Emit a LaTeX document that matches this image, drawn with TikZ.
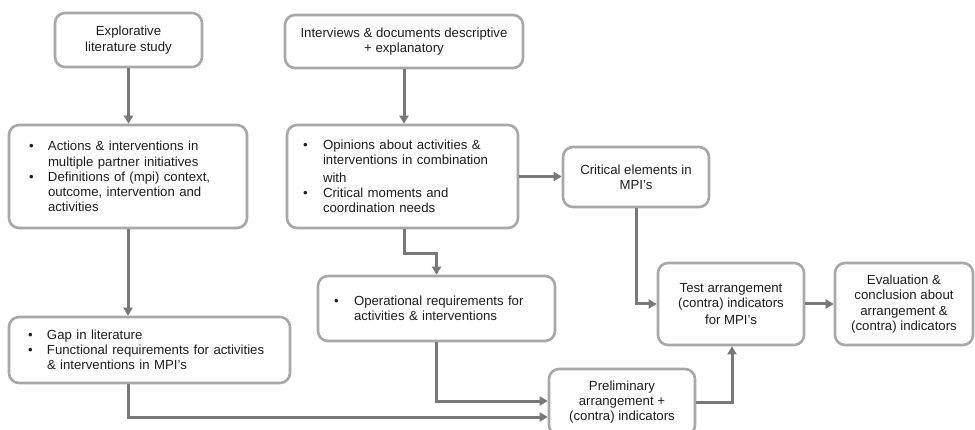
\documentclass[tikz,border=0pt]{standalone}
\usepackage{fontspec}
\setmainfont{Liberation Sans}
\usetikzlibrary{arrows.meta}

\definecolor{boxline}{HTML}{A8A8A8}
\definecolor{arrowline}{HTML}{787878}
\definecolor{txt}{HTML}{1E1E1E}

% bullet and hanging indent for list-like boxes
\newcommand\bul[1]{\makebox[#1][l]{\textbullet}}
\newcommand\ind[1]{\hspace*{#1}}

\tikzset{
  stage/.style={draw=boxline, line width=2.6pt, rounded corners=10pt, fill=white,
    text=txt, font=\fontsize{13.2}{15.2}\selectfont, align=center, inner sep=0pt},
  listbox/.style={stage, align=left},
  flow/.style={draw=arrowline, line width=3pt, -{Triangle[length=8pt,width=9pt]}},
}

\begin{document}
\begin{tikzpicture}[x=1pt, y=-1pt]
  \fill[white] (0,0) rectangle (975,430);
  \useasboundingbox (0,0) rectangle (975,430);

  % left column: literature
  \node[stage, minimum width=147pt, minimum height=54pt] (lit) at (128.5,40)
    {Explorative\\literature study};
  \node[listbox, minimum width=238pt, minimum height=103pt, text width=198pt, inner xsep=20pt] (act) at (128,176.5)
    {\bul{19pt}Actions \& interventions in\\
     \ind{19pt}multiple partner initiatives\\
     \bul{19pt}Definitions of (mpi) context,\\
     \ind{19pt}outcome, intervention and\\
     \ind{19pt}activities};
  \node[listbox, minimum width=281pt, minimum height=66pt, text width=243pt, inner xsep=19pt] (gap) at (149.5,350)
    {\bul{19pt}Gap in literature\\
     \bul{19pt}Functional requirements for activities\\
     \ind{19pt}\& interventions in MPI’s};

  % middle column: interviews
  \node[stage, minimum width=238pt, minimum height=53pt] (intv) at (404,41.5)
    {Interviews \& documents descriptive\\+ explanatory};
  \node[listbox, minimum width=231pt, minimum height=103pt, text width=199pt, inner xsep=16pt] (opin) at (402.5,176.5)
    {\bul{20pt}Opinions about activities \&\\
     \ind{20pt}interventions in combination\\[2.5pt]
     \ind{20pt}with\\
     \bul{20pt}Critical moments and\\
     \ind{20pt}coordination needs};
  \node[listbox, minimum width=237pt, minimum height=65pt, text width=205pt, inner xsep=16pt] (oper) at (436.5,308.5)
    {\bul{20pt}Operational requirements for\\
     \ind{20pt}activities \& interventions};

  % right part: synthesis
  \node[stage, minimum width=146pt, minimum height=60pt] (crit) at (636,177)
    {Critical elements in\\MPI’s};
  \node[stage, minimum width=146pt, minimum height=66pt] (prel) at (622,402)
    {Preliminary\\arrangement +\\(contra) indicators};
  \node[stage, minimum width=146pt, minimum height=82pt] (test) at (731,304)
    {Test arrangement\\(contra) indicators\\[2.5pt]for MPI’s};
  \node[stage, minimum width=138pt, minimum height=82pt] (eval) at (904,304)
    {Evaluation \&\\conclusion about\\arrangement \&\\(contra) indicators};

  % connectors
  \draw[flow] (lit.south) -- (lit.south |- act.north);
  \draw[flow] (act.south) -- (act.south |- gap.north);
  \draw[flow] (intv.south) -- (intv.south |- opin.north);
  \draw[flow] (opin.east) -- (opin.east -| crit.west);
  \draw[flow] ([xshift=1.5pt]opin.south) -- ++(0,24) -| (oper.north);
  \draw[flow] (oper.south) |- ([yshift=1pt]prel.west);
  \draw[flow] (act.south |- gap.south) |- ([yshift=-15pt]prel.west);
  \draw[flow] (crit.south) |- (test.west);
  \draw[flow] (test.east) -- (eval.west);
  \draw[flow] (prel.east) -| ([xshift=1pt]test.south);
\end{tikzpicture}
\end{document}
